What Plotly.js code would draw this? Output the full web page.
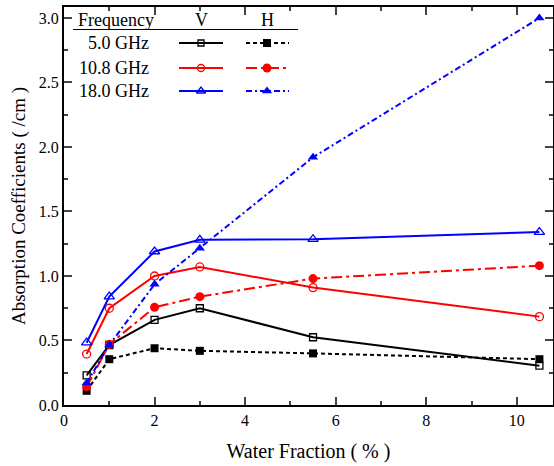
<!DOCTYPE html>
<html><head><meta charset="utf-8">
<script src="https://cdn.plot.ly/plotly-3.0.1.min.js"></script>
<style>html,body{margin:0;padding:0;background:#fff}#plot{width:554px;height:466px}</style>
</head><body><div id="plot"></div>
<script>
const waterFraction = [0.5, 1, 2, 3, 5.5, 10.5];
const v50  = [0.23, 0.465, 0.66, 0.75, 0.525, 0.305];
const h50  = [0.11, 0.355, 0.44, 0.42, 0.40, 0.355];
const v108 = [0.395, 0.75, 1.00, 1.07, 0.91, 0.685];
const h108 = [0.14, 0.47, 0.757, 0.84, 0.98, 1.08];
const v180 = [0.483, 0.84, 1.19, 1.28, 1.285, 1.34];
const h180 = [0.17, 0.465, 0.935, 1.215, 1.92, 3.0];
const freqLabels = ['5.0 GHz', '10.8 GHz', '18.0 GHz'];
const xTicks = [0, 2, 4, 6, 8, 10];
const yTicks = [0.0, 0.5, 1.0, 1.5, 2.0, 2.5, 3.0];

const FONT = '"Liberation Serif", "Times New Roman", serif';
const colors = ['#000000', '#ff0000', '#0000ff'];
const vSym = ['square-open', 'circle-open', 'triangle-up-open'];
const hSym = ['square', 'circle', 'triangle-up'];
const hDash = ['4px,3px', '11px,4px,3px,4px', '6px,3px,2px,3px'];
const vSize = [7, 8, 9];
const hSize = [8, 9, 9];
const vData = [v50, v108, v180];
const hData = [h50, h108, h180];

const traces = [];
for (let i = 0; i < 3; i++) {
  traces.push({x: waterFraction, y: vData[i], mode: 'lines+markers', showlegend: false,
    line: {color: colors[i], width: 2},
    marker: {symbol: vSym[i], size: vSize[i], color: colors[i], line: {width: 1.3, color: colors[i]}}});
  traces.push({x: waterFraction, y: hData[i], mode: 'lines+markers', showlegend: false,
    line: {color: colors[i], width: 2, dash: hDash[i]},
    marker: {symbol: hSym[i], size: hSize[i], color: colors[i]}});
}

// custom legend table on overlay axes (0..1 paper-like)
const L = 64, W = 489, B = 405, H = 398;
const fx = px => (px - L) / W;
const fy = py => (B - py) / H;
const rowY = [43, 68, 91];
const annotations = [];
const shapes = [];
const tf = {family: FONT, size: 18, color: '#000'};
annotations.push({xref: 'paper', yref: 'paper', x: fx(76), y: fy(20), xanchor: 'left', yanchor: 'middle',
  text: 'Frequency', showarrow: false, font: tf});
annotations.push({xref: 'paper', yref: 'paper', x: fx(201), y: fy(20), xanchor: 'center', yanchor: 'middle',
  text: 'V', showarrow: false, font: tf});
annotations.push({xref: 'paper', yref: 'paper', x: fx(267), y: fy(20), xanchor: 'center', yanchor: 'middle',
  text: 'H', showarrow: false, font: tf});
shapes.push({type: 'line', xref: 'paper', yref: 'paper', x0: fx(73), x1: fx(298), y0: fy(29.5), y1: fy(29.5),
  line: {color: '#000', width: 1}});
for (let i = 0; i < 3; i++) {
  annotations.push({xref: 'paper', yref: 'paper', x: fx(151), y: fy(rowY[i]), xanchor: 'right', yanchor: 'middle',
    text: freqLabels[i], showarrow: false, font: tf});
  traces.push({x: [fx(179), fx(223)], y: [fy(rowY[i]), fy(rowY[i])], xaxis: 'x2', yaxis: 'y2',
    mode: 'lines', showlegend: false, hoverinfo: 'skip', line: {color: colors[i], width: 2}});
  traces.push({x: [fx(201)], y: [fy(rowY[i])], xaxis: 'x2', yaxis: 'y2',
    mode: 'markers', showlegend: false, hoverinfo: 'skip',
    marker: {symbol: vSym[i], size: vSize[i] - 1, color: colors[i], line: {width: 1.3, color: colors[i]}}});
  traces.push({x: [fx(246), fx(289)], y: [fy(rowY[i]), fy(rowY[i])], xaxis: 'x2', yaxis: 'y2',
    mode: 'lines', showlegend: false, hoverinfo: 'skip', line: {color: colors[i], width: 2, dash: hDash[i]}});
  traces.push({x: [fx(267)], y: [fy(rowY[i])], xaxis: 'x2', yaxis: 'y2',
    mode: 'markers', showlegend: false, hoverinfo: 'skip',
    marker: {symbol: hSym[i], size: hSize[i], color: colors[i]}});
}

const layout = {
  width: 554, height: 466,
  margin: {l: 64, r: 1, t: 7, b: 61},
  paper_bgcolor: '#fff', plot_bgcolor: '#fff',
  font: {family: FONT, size: 16, color: '#000'},
  xaxis: {range: [0, 10.8], tickvals: xTicks, ticktext: xTicks.map(String), ticks: 'inside', ticklen: 8, tickwidth: 2,
    minor: {dtick: 1, tick0: 0, ticks: 'inside', ticklen: 4, tickwidth: 2, showgrid: false},
    showline: true, linewidth: 2, linecolor: '#000', mirror: 'allticks', showgrid: false, zeroline: false,
    tickfont: {family: FONT, size: 16}, title: {text: 'Water Fraction ( % )', font: {family: FONT, size: 20}, standoff: 16}},
  yaxis: {range: [0, 3.085], tickvals: yTicks, ticktext: yTicks.map(v => v.toFixed(1)), ticks: 'inside', ticklen: 8, tickwidth: 2,
    minor: {dtick: 0.25, tick0: 0, ticks: 'inside', ticklen: 4, tickwidth: 2, showgrid: false},
    showline: true, linewidth: 2, linecolor: '#000', mirror: 'allticks', showgrid: false, zeroline: false,
    tickfont: {family: FONT, size: 16}, title: {text: 'Absorption Coefficients ( /cm )', font: {family: FONT, size: 19}, standoff: 8}},
  xaxis2: {range: [0, 1], overlaying: 'x', visible: false, fixedrange: true},
  yaxis2: {range: [0, 1], overlaying: 'y', visible: false, fixedrange: true},
  annotations: annotations,
  shapes: shapes
};
Plotly.newPlot('plot', traces, layout, {displayModeBar: false, staticPlot: true});
</script></body></html>
